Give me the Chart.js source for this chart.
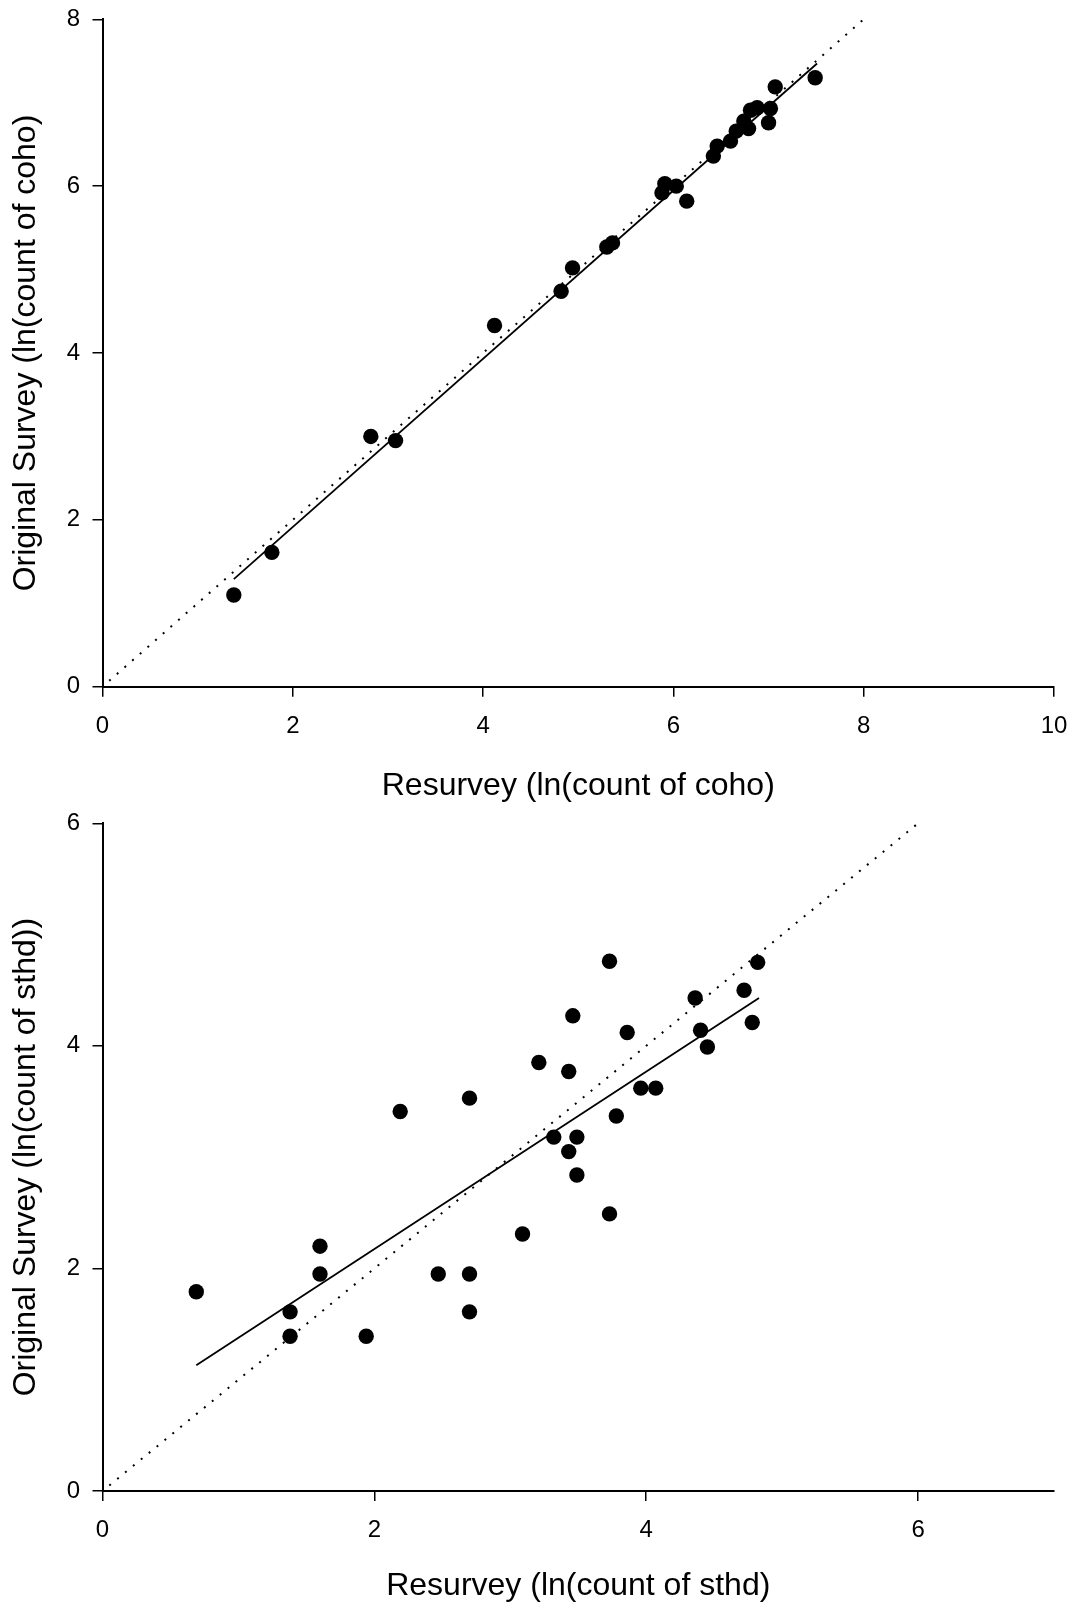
<!DOCTYPE html>
<html>
<head>
<meta charset="utf-8">
<title>Resurvey vs original survey</title>
<script src="https://cdn.jsdelivr.net/npm/chart.js@4.4.1/dist/chart.umd.min.js"></script>
<style>
  body { margin: 0; background: #fff; }
  canvas { display: block; }
</style>
</head>
<body>
<canvas id="cohoChart" width="1074" height="803"></canvas>
<canvas id="sthdChart" width="1074" height="803"></canvas>
<script>
// coho: resurvey (x) vs original survey (y), ln counts
const cohoResurvey = [1.38, 1.78, 2.82, 3.08, 4.12, 4.82, 4.94, 5.30, 5.36, 5.88, 5.91, 6.03, 6.14,
  6.42, 6.46, 6.60, 6.66, 6.74, 6.79, 6.81, 6.88, 7.00, 7.02, 7.07, 7.49];
const cohoOriginal = [1.10, 1.61, 3.00, 2.95, 4.33, 4.74, 5.02, 5.27, 5.32, 5.92, 6.03, 6.00, 5.82,
  6.36, 6.48, 6.54, 6.66, 6.78, 6.69, 6.91, 6.94, 6.76, 6.93, 7.19, 7.30];
const cohoFitX = [1.38, 7.51];
const cohoFitY = [1.29, 7.47];
const cohoOneToOne = [0.07, 8.0];
const cohoXTicks = [0, 2, 4, 6, 8, 10];
const cohoYTicks = [0, 2, 4, 6, 8];

// steelhead
const sthdResurvey = [0.69, 1.38, 1.38, 1.60, 1.60, 1.94, 2.19, 2.47, 2.70, 2.70, 2.70, 3.09, 3.21,
  3.32, 3.43, 3.43, 3.46, 3.49, 3.49, 3.73, 3.73, 3.78, 3.86, 3.96, 4.07, 4.36, 4.40, 4.45, 4.72,
  4.78, 4.82];
const sthdOriginal = [1.79, 1.61, 1.39, 2.20, 1.95, 1.39, 3.41, 1.95, 3.53, 1.95, 1.61, 2.31, 3.85,
  3.18, 3.77, 3.05, 4.27, 3.18, 2.84, 4.76, 2.49, 3.37, 4.12, 3.62, 3.62, 4.43, 4.14, 3.99, 4.50,
  4.21, 4.75];
const sthdFitX = [0.69, 4.83];
const sthdFitY = [1.13, 4.43];
const sthdOneToOne = [0.05, 6.0];
const sthdXTicks = [0, 2, 4, 6];
const sthdYTicks = [0, 2, 4, 6];

const FONT = "'Liberation Sans', Arial, Helvetica, sans-serif";

function toPoints(xs, ys) {
  return xs.map((x, i) => ({x: x, y: ys[i]}));
}

function axis(min, max, tickValues, title, isX, size) {
  return {
    type: 'linear',
    min: min,
    max: max,
    afterBuildTicks: s => { s.ticks = tickValues.map(v => ({value: v})); },
    afterFit: s => {
      if (isX) s.height = size; else s.width = size;
      s.paddingTop = 0; s.paddingBottom = 0; s.paddingLeft = 0; s.paddingRight = 0;
    },
    grid: { drawOnChartArea: false, drawTicks: true, tickLength: 10, color: '#000', lineWidth: 1.5 },
    border: { display: true, color: '#000', width: 2 },
    ticks: {
      color: '#000',
      font: { family: FONT, size: 24 },
      padding: isX ? 15 : 12.5,
      maxRotation: 0,
      autoSkip: false
    },
    title: {
      display: true,
      text: title,
      color: '#000',
      font: { family: FONT, size: 32, lineHeight: 1 },
      padding: isX ? { top: 0, bottom: title.indexOf('sthd') > 0 ? 4 : 1 } : { top: 10.5, bottom: 0 }
    }
  };
}

function makeChart(id, cfg) {
  const ctx = document.getElementById(id);
  return new Chart(ctx, {
    type: 'scatter',
    data: {
      datasets: [{
        label: 'Sites',
        data: toPoints(cfg.xs, cfg.ys),
        backgroundColor: '#000',
        borderWidth: 0,
        pointRadius: 7.7,
        pointHoverRadius: 7.7
      }, {
        label: 'Fit',
        data: toPoints(cfg.fitX, cfg.fitY),
        showLine: true,
        borderColor: '#000',
        borderWidth: 1.8,
        pointRadius: 0
      }, {
        label: '1:1',
        data: toPoints(cfg.oneToOne, cfg.oneToOne),
        showLine: true,
        borderColor: '#000',
        borderWidth: 2,
        borderDash: [2, 8.2],
        pointRadius: 0
      }]
    },
    options: {
      responsive: false,
      animation: false,
      layout: { autoPadding: false, padding: cfg.padding },
      plugins: { legend: { display: false }, tooltip: { enabled: false } },
      scales: {
        x: axis(0, cfg.xMax, cfg.xTicks, cfg.xTitle, true, cfg.xHeight),
        y: axis(0, cfg.yMax, cfg.yTicks, cfg.yTitle, false, 102.5)
      }
    }
  });
}

makeChart('cohoChart', {
  xs: cohoResurvey, ys: cohoOriginal,
  fitX: cohoFitX, fitY: cohoFitY, oneToOne: cohoOneToOne,
  xMax: 10, yMax: 8, xTicks: cohoXTicks, yTicks: cohoYTicks,
  xTitle: 'Resurvey (ln(count of coho)',
  yTitle: 'Original Survey (ln(count of coho)',
  xHeight: 116.3,
  padding: { top: 19.3, right: 20, left: 0, bottom: 0 }
});

makeChart('sthdChart', {
  xs: sthdResurvey, ys: sthdOriginal,
  fitX: sthdFitX, fitY: sthdFitY, oneToOne: sthdOneToOne,
  xMax: 7, yMax: 6, xTicks: sthdXTicks, yTicks: sthdYTicks,
  xTitle: 'Resurvey (ln(count of sthd)',
  yTitle: 'Original Survey (ln(count of sthd))',
  xHeight: 115,
  padding: { top: 20.3, right: 20, left: 0, bottom: 0 }
});
</script>
</body>
</html>
